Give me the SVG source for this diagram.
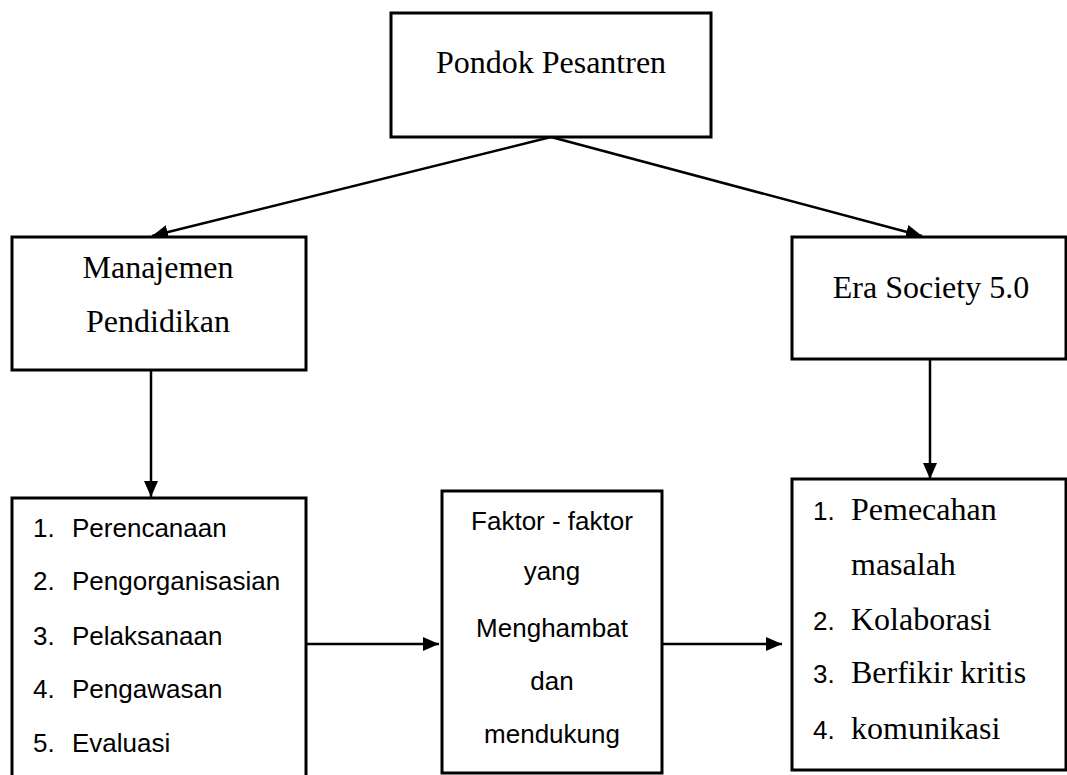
<svg xmlns="http://www.w3.org/2000/svg" width="1067" height="775" viewBox="0 0 1067 775">
<style>
.box{fill:#fff;stroke:#000;stroke-width:3}
.ln{stroke:#000;stroke-width:2.5;fill:none}
.serif{font-family:"Liberation Serif","Times New Roman",serif;font-size:32px;fill:#000}
.sans{font-family:"Liberation Sans",Arial,sans-serif;font-size:26px;fill:#000}
.c{text-anchor:middle}
</style>
<defs>
<marker id="ah" markerWidth="16" markerHeight="14" refX="16" refY="7" orient="auto" markerUnits="userSpaceOnUse">
<path d="M0,0 L16,7 L0,14 Z" fill="#000"/>
</marker>
</defs>
<rect width="1067" height="775" fill="#fff"/>
<g id="connectors">
<line class="ln" x1="551" y1="137" x2="152" y2="236" marker-end="url(#ah)"/>
<line class="ln" x1="551" y1="137" x2="922" y2="236" marker-end="url(#ah)"/>
<line class="ln" x1="151" y1="370" x2="151" y2="497" marker-end="url(#ah)"/>
<line class="ln" x1="930" y1="359" x2="930" y2="479" marker-end="url(#ah)"/>
<line class="ln" x1="302" y1="644" x2="439" y2="644" marker-end="url(#ah)"/>
<line class="ln" x1="662" y1="644" x2="782" y2="644" marker-end="url(#ah)"/>
</g>
<g id="pondok">
<rect class="box" x="391" y="13" width="320" height="124"/>
<text class="serif c" x="551" y="73">Pondok Pesantren</text>
</g>
<g id="manajemen">
<rect class="box" x="12" y="237" width="294" height="133"/>
<text class="serif c" x="158" y="278">Manajemen</text>
<text class="serif c" x="158" y="332">Pendidikan</text>
</g>
<g id="era">
<rect class="box" x="792" y="237" width="274" height="122"/>
<text class="serif c" x="931" y="298">Era Society 5.0</text>
</g>
<g id="fungsi">
<rect class="box" x="12" y="498" width="294" height="280"/>
<text class="sans" x="33" y="537">1.</text><text class="sans" x="72" y="537">Perencanaan</text>
<text class="sans" x="33" y="590">2.</text><text class="sans" x="72" y="590">Pengorganisasian</text>
<text class="sans" x="33" y="645">3.</text><text class="sans" x="72" y="645">Pelaksanaan</text>
<text class="sans" x="33" y="698">4.</text><text class="sans" x="72" y="698">Pengawasan</text>
<text class="sans" x="33" y="752">5.</text><text class="sans" x="72" y="752">Evaluasi</text>
</g>
<g id="faktor">
<rect class="box" x="442" y="491" width="220" height="282"/>
<text class="sans c" x="552" y="530">Faktor - faktor</text>
<text class="sans c" x="552" y="580">yang</text>
<text class="sans c" x="552" y="637">Menghambat</text>
<text class="sans c" x="552" y="690">dan</text>
<text class="sans c" x="552" y="743">mendukung</text>
</g>
<g id="keterampilan">
<rect class="box" x="792" y="479" width="274" height="291"/>
<text class="sans" x="813" y="520">1.</text><text class="serif" x="851" y="520">Pemecahan</text>
<text class="serif" x="851" y="575">masalah</text>
<text class="sans" x="813" y="630">2.</text><text class="serif" x="851" y="630">Kolaborasi</text>
<text class="sans" x="813" y="683">3.</text><text class="serif" x="851" y="683">Berfikir kritis</text>
<text class="sans" x="813" y="739">4.</text><text class="serif" x="851" y="739">komunikasi</text>
</g>
</svg>
